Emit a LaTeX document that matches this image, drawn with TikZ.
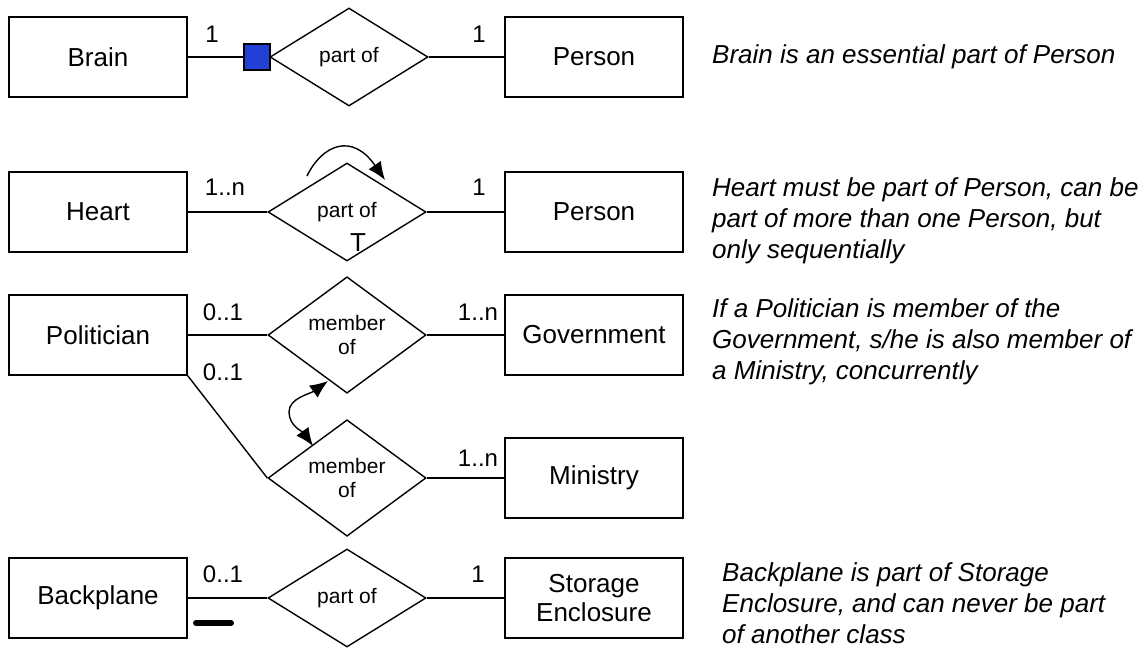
\documentclass[tikz,border=0pt]{standalone}
\usepackage{fontspec}
\setmainfont{Liberation Sans}
\usetikzlibrary{shapes.geometric,arrows.meta}
\definecolor{squareblue}{RGB}{34,64,214}
\tikzset{headtip/.tip={Latex[length=18pt,width=15pt]}}
\begin{document}
\begin{tikzpicture}[x=1pt,y=-1pt,
  ent/.style={draw, line width=1.4pt, minimum width=178pt, minimum height=80pt,
    inner sep=0pt, align=center, font=\fontsize{26}{29}\selectfont},
  rel/.style={draw, diamond, line width=1.4pt, minimum width=158pt, minimum height=98pt,
    inner sep=0pt, align=center, font=\fontsize{21}{24}\selectfont},
  card/.style={inner sep=0pt, font=\fontsize{24}{27}\selectfont},
  note/.style={anchor=west, align=left, inner sep=0pt, font=\itshape\fontsize{26}{31}\selectfont},
  link/.style={line width=1.4pt},
  essential/.style={draw, line width=1.2pt, fill=squareblue, minimum size=26pt, inner sep=0pt}]
\useasboundingbox (0,0) rectangle (1148,648);

% Brain -- part of -- Person (essential part)
\node[ent] (brain) at (98,57) {Brain};
\node[essential] (ess) at (257,57) {};
\node[rel] (r1) at (349,57) {part of};
\node[ent] (person1) at (594,57) {Person};
\draw[link] (brain) -- (ess);
\draw[link] (r1) -- (person1);
\node[card] (c1a) at (212,34) {1};
\node[card] (c1b) at (479,34) {1};
\node[note] (n1) at (712,57) {Brain is an essential part of Person};

% Heart -- part of (sequential) -- Person
\node[ent] (heart) at (98,212) {Heart};
\node[rel] (r2) at (347,212) {part of};
\node[ent] (person2) at (594,212) {Person};
\draw[link] (heart) -- (r2);
\draw[link] (r2) -- (person2);
\node[inner sep=0pt, font=\fontsize{26}{28}\selectfont] (tmark) at (358,243) {T};
\coordinate (s1) at (307,176);
\coordinate (s2) at (385,180);
\draw[link, -{headtip}] (s1) .. controls (322,145) and (352,132) .. (s2);
\node[card] (c2a) at (225,187) {1..n};
\node[card] (c2b) at (479,187) {1};
\node[note] (n2) at (712,221) {Heart must be part of Person, can be\\part of more than one Person, but\\only sequentially};

% Politician -- member of -- Government / Ministry
\node[ent] (pol) at (98,335) {Politician};
\node[rel] (r3) at (347,335) {member\\of};
\node[ent] (gov) at (594,335) {Government};
\node[rel] (r4) at (347,478) {member\\of};
\node[ent] (min) at (594,478) {Ministry};
\draw[link] (pol) -- (r3);
\draw[link] (r3) -- (gov);
\draw[link] (pol.south east) -- (r4.west);
\draw[link] (r4) -- (min);
\node[card] (c3a) at (223,312) {0..1};
\node[card] (c3b) at (223,372) {0..1};
\node[card] (c3c) at (478,312) {1..n};
\node[card] (c4a) at (478,458) {1..n};
\coordinate (d1) at (328,381);
\coordinate (dm) at (289,412);
\coordinate (d2) at (313,446);
\draw[link, {headtip}-{headtip}] (d1) .. controls (310,394) and (289,398) .. (dm)
  .. controls (289,426) and (303,432) .. (d2);
\node[note] (n3) at (712,342) {If a Politician is member of the\\Government, s/he is also member of\\a Ministry, concurrently};

% Backplane -- part of -- Storage Enclosure (exclusive)
\node[ent] (back) at (98,598) {Backplane};
\node[rel] (r5) at (347,598) {part of};
\node[ent] (stor) at (594,598) {Storage\\Enclosure};
\draw[link] (back) -- (r5);
\draw[link] (r5) -- (stor);
\node[card] (c5a) at (223,574) {0..1};
\node[card] (c5b) at (478,574) {1};
\coordinate (b1) at (196,623);
\coordinate (b2) at (231,623);
\draw[line width=6pt, line cap=round] (b1) -- (b2);
\node[note] (n4) at (722,603) {Backplane is part of Storage\\Enclosure, and can never be part\\of another class};
\end{tikzpicture}
\end{document}
